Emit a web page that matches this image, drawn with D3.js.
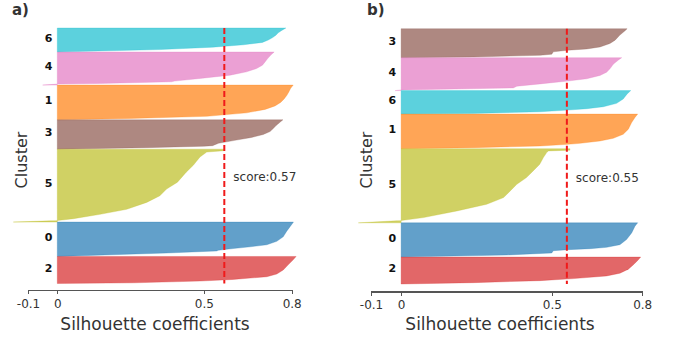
<!DOCTYPE html>
<head>
<meta charset="utf-8">
<script src="https://cdn.jsdelivr.net/npm/d3@7"></script>
<style>
body { margin: 0; background: #fff; font-family: "DejaVu Sans", sans-serif; }
.axis path, .axis line { stroke: #555; stroke-width: 1.2; shape-rendering: crispEdges; }
.axis text { font: 12px "DejaVu Sans"; fill: #333; }
.clabel { font: bold 11px "DejaVu Sans"; fill: #111; text-anchor: end; }
.title { font: 17px "DejaVu Sans"; fill: #333; text-anchor: middle; }
.ylab { font: 16px "DejaVu Sans"; fill: #333; text-anchor: middle; }
.score { font: 12px "DejaVu Sans"; fill: #333; }
.panel { font: bold 15px "DejaVu Sans"; fill: #333; }
</style>
<body>
<div id="chart"></div>
<script>
// cluster colours (matplotlib tab10 picks)
var clusterColor = {"0": "#1f77b4", "1": "#ff7f0e", "2": "#d62728", "3": "#8c564b",
                    "4": "#e377c2", "5": "#bcbd22", "6": "#17becf"};

var xTicks = [-0.1, 0, 0.5, 0.8];

// ---- panel a) ----
var orderA = ["6", "4", "1", "3", "5", "0", "2"];
var sizesA = [237, 327, 343, 290, 720, 340, 267];
var scoreA = 0.57;
// silhouette profiles: [rank fraction from top, coefficient]
var a6 = [[0,.78],[.1,.766],[.2,.754],[.3,.746],[.4,.735],[.5,.72],[.6,.70],[.7,.635],[.8,.53],[.9,.35],[1,0]];
var a4 = [[0,.74],[.1,.728],[.2,.718],[.3,.709],[.4,.70],[.5,.68],[.6,.646],[.7,.59],[.8,.487],[.88,.40],[.9,.39],[.95,.145],[.97,0],[1,-.05]];
var a1 = [[0,.805],[.1,.796],[.2,.79],[.3,.783],[.4,.774],[.5,.762],[.6,.743],[.7,.709],[.8,.646],[.9,.51],[.96,.25],[1,0]];
var a3 = [[0,.77],[.1,.758],[.2,.746],[.3,.737],[.4,.726],[.5,.703],[.6,.663],[.7,.606],[.8,.55],[.88,.53],[.9,.5],[.95,.3],[1,0]];
var a5 = [[0,.57],[.02,.57],[.04,.51],[.107,.487],[.222,.464],[.315,.44],[.454,.41],[.547,.373],[.64,.35],[.73,.305],[.825,.237],[.894,.146],[.954,.055],[.98,0],[1,-.15]];
var a0 = [[0,.806],[.07,.80],[.265,.783],[.43,.771],[.56,.749],[.66,.715],[.72,.658],[.77,.60],[.80,.57],[.82,.55],[.84,.544],[.90,.373],[1,0]];
var a2 = [[0,.815],[.125,.805],[.31,.788],[.5,.771],[.65,.749],[.75,.715],[.85,.60],[.91,.487],[.975,.26],[1,0]];

// ---- panel b) ----
var orderB = ["3", "4", "6", "1", "5", "0", "2"];
var sizesB = [287, 327, 233, 343, 735, 340, 267];
var scoreB = 0.55;
var b3 = [[0,.75],[.07,.743],[.22,.726],[.395,.71],[.51,.693],[.63,.66],[.70,.616],[.744,.553],[.80,.505],[.88,.50],[.92,.461],[.977,.24],[1,0]];
var b4 = [[0,.732],[.08,.72],[.2,.704],[.34,.693],[.44,.682],[.54,.66],[.64,.616],[.71,.553],[.796,.461],[.867,.384],[.918,.372],[.96,.13],[.98,0],[1,-.02]];
var b6 = [[0,.762],[.14,.75],[.357,.737],[.543,.715],[.686,.671],[.77,.616],[.83,.553],[.9,.461],[.97,.24],[1,0]];
var b1 = [[0,.785],[.097,.776],[.243,.765],[.437,.754],[.583,.737],[.70,.704],[.777,.66],[.845,.594],[.874,.553],[.922,.461],[.97,.24],[1,0]];
var b5 = [[0,.56],[.02,.56],[.03,.489],[.053,.483],[.12,.472],[.21,.46],[.30,.438],[.39,.416],[.48,.384],[.57,.362],[.66,.34],[.75,.284],[.84,.185],[.93,.074],[.97,0],[1,-.142]];
var b0 = [[0,.785],[.098,.776],[.294,.765],[.49,.748],[.637,.726],[.716,.682],[.755,.627],[.784,.553],[.814,.505],[.88,.50],[.94,.35],[1,0]];
var b2 = [[0,.795],[.125,.785],[.29,.77],[.45,.754],[.6,.726],[.7,.682],[.8,.572],[.875,.461],[.95,.24],[1,0]];

var svg = d3.select("#chart").append("svg")
    .attr("width", 675)
    .attr("height", 338);

function drawPanel(p) {
  var g = svg.append("g");
  var x = d3.scaleLinear().domain([-0.1, 0.8]).range(p.xRange);
  var total = d3.sum(p.sizes);
  var y = d3.scaleLinear().domain([0, total]).range(p.yRange);

  var start = 0;
  p.order.forEach(function(c, i) {
    var s0 = start, n = p.sizes[i];
    var area = d3.area()
        .y(function(d) { return y(s0 + d[0] * n); })
        .x0(x(0))
        .x1(function(d) { return x(d[1]); });
    g.append("path")
        .datum(p.profiles[i])
        .attr("d", area)
        .attr("fill", clusterColor[c])
        .attr("fill-opacity", 0.7)
        .attr("stroke", clusterColor[c])
        .attr("stroke-opacity", 0.35)
        .attr("stroke-width", 0.8);
    // cluster label
    g.append("text")
        .attr("class", "clabel")
        .attr("x", x(0) - 5)
        .attr("y", y(s0 + n / 2) - 2)
        .attr("dy", "0.35em")
        .text(c);
    start += n;
  });

  // average score line
  g.append("line")
      .attr("x1", x(p.score)).attr("x2", x(p.score))
      .attr("y1", p.yRange[0]).attr("y2", p.yRange[1])
      .attr("stroke", "#f01a1a")
      .attr("stroke-width", 2)
      .attr("stroke-dasharray", "6,3");
  g.append("text")
      .attr("class", "score")
      .attr("x", x(p.score) + 9)
      .attr("y", p.scoreY)
      .text("score:" + p.score.toFixed(2));

  // x axis
  g.append("g")
      .attr("class", "axis")
      .attr("transform", "translate(0," + p.axisY + ")")
      .call(d3.axisBottom(x).tickValues(xTicks).tickSize(4).tickPadding(5)
          .tickFormat(function(d) { return d === 0 ? "0" : String(d); }));

  g.append("text")
      .attr("class", "title")
      .attr("x", p.titleX)
      .attr("y", 330)
      .text("Silhouette coefficients");

  g.append("text")
      .attr("class", "ylab")
      .attr("transform", "translate(" + p.clusterX + ",160) rotate(-90)")
      .text("Cluster");

  g.append("text")
      .attr("class", "panel")
      .attr("x", p.panelX)
      .attr("y", 15)
      .text(p.panel);
}

drawPanel({panel: "a)", order: orderA, sizes: sizesA, score: scoreA,
           profiles: [a6, a4, a1, a3, a5, a0, a2],
           xRange: [28, 291.7], yRange: [28, 283.5], axisY: 290,
           scoreY: 181, titleX: 155, clusterX: 27, panelX: 12});
drawPanel({panel: "b)", order: orderB, sizes: sizesB, score: scoreB,
           profiles: [b3, b4, b6, b1, b5, b0, b2],
           xRange: [371, 642.2], yRange: [28.7, 284], axisY: 291.5,
           scoreY: 182, titleX: 500, clusterX: 372, panelX: 367});
</script>
</body>
